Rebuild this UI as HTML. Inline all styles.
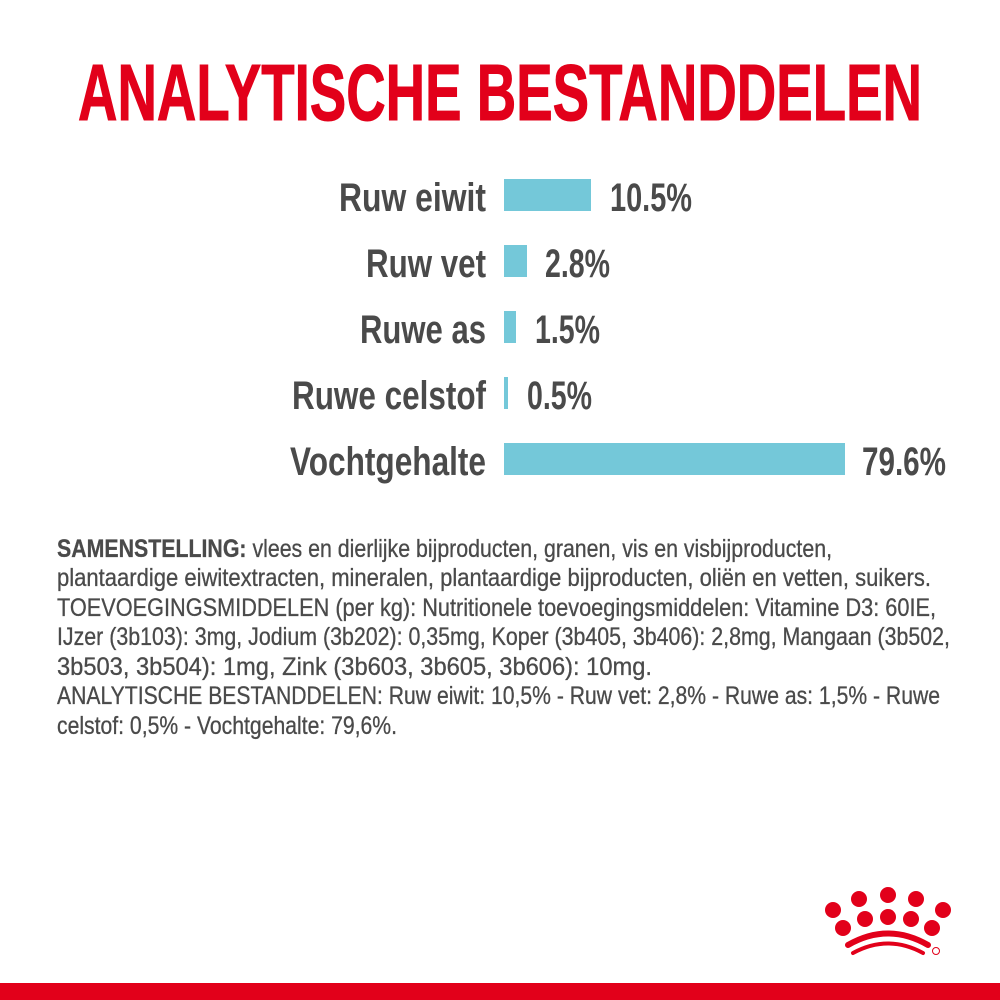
<!DOCTYPE html>
<html><head><meta charset="utf-8"><style>
html,body{margin:0;padding:0;background:#fff;}
svg{display:block}
text{font-family:"Liberation Sans Narrow","Liberation Sans",sans-serif;}
</style></head><body>
<svg width="1000" height="1000" viewBox="0 0 1000 1000" xmlns="http://www.w3.org/2000/svg">
<rect width="1000" height="1000" fill="#fff"/>
<text x="78" y="120" font-size="80" font-weight="bold" fill="#e2001a" stroke="#e2001a" stroke-width="1" textLength="844" lengthAdjust="spacingAndGlyphs">ANALYTISCHE BESTANDDELEN</text>
<g font-size="40" font-weight="bold" fill="#4a4a4a" text-anchor="end">
<text x="486" y="211" textLength="147" lengthAdjust="spacingAndGlyphs">Ruw eiwit</text>
<text x="486" y="277" textLength="120" lengthAdjust="spacingAndGlyphs">Ruw vet</text>
<text x="486" y="343" textLength="126" lengthAdjust="spacingAndGlyphs">Ruwe as</text>
<text x="486" y="409" textLength="194" lengthAdjust="spacingAndGlyphs">Ruwe celstof</text>
<text x="486" y="475" textLength="196" lengthAdjust="spacingAndGlyphs">Vochtgehalte</text>
</g>
<g fill="#74c8d9">
<rect x="504" y="179" width="87" height="32"/>
<rect x="504" y="245" width="23" height="32"/>
<rect x="504" y="311" width="12" height="32"/>
<rect x="504" y="377" width="4" height="32"/>
<rect x="504" y="443" width="341" height="32"/>
</g>
<g font-size="40" font-weight="bold" fill="#4a4a4a">
<text x="610" y="211" textLength="82" lengthAdjust="spacingAndGlyphs">10.5%</text>
<text x="545" y="277" textLength="65" lengthAdjust="spacingAndGlyphs">2.8%</text>
<text x="535" y="343" textLength="65" lengthAdjust="spacingAndGlyphs">1.5%</text>
<text x="527" y="409" textLength="65" lengthAdjust="spacingAndGlyphs">0.5%</text>
<text x="862" y="475" textLength="84" lengthAdjust="spacingAndGlyphs">79.6%</text>
</g>
<g font-size="25" fill="#4a4a4a" stroke="#4a4a4a" stroke-width="0.3">
<text x="57" y="557" textLength="775" lengthAdjust="spacingAndGlyphs"><tspan font-weight="bold">SAMENSTELLING:</tspan> vlees en dierlijke bijproducten, granen, vis en visbijproducten,</text>
<text x="57" y="586" textLength="874" lengthAdjust="spacingAndGlyphs">plantaardige eiwitextracten, mineralen, plantaardige bijproducten, oliën en vetten, suikers.</text>
<text x="57" y="616" textLength="879" lengthAdjust="spacingAndGlyphs">TOEVOEGINGSMIDDELEN (per kg): Nutritionele toevoegingsmiddelen: Vitamine D3: 60IE,</text>
<text x="57" y="645" textLength="893" lengthAdjust="spacingAndGlyphs">IJzer (3b103): 3mg, Jodium (3b202): 0,35mg, Koper (3b405, 3b406): 2,8mg, Mangaan (3b502,</text>
<text x="57" y="675" textLength="595" lengthAdjust="spacingAndGlyphs">3b503, 3b504): 1mg, Zink (3b603, 3b605, 3b606): 10mg.</text>
<text x="57" y="704" textLength="883" lengthAdjust="spacingAndGlyphs">ANALYTISCHE BESTANDDELEN: Ruw eiwit: 10,5% - Ruw vet: 2,8% - Ruwe as: 1,5% - Ruwe</text>
<text x="57" y="734" textLength="340" lengthAdjust="spacingAndGlyphs">celstof: 0,5% - Vochtgehalte: 79,6%.</text>
</g>
<g fill="#e2001a">
<circle cx="833" cy="910" r="8"/>
<circle cx="859" cy="899" r="8"/>
<circle cx="888" cy="895" r="8"/>
<circle cx="916" cy="899" r="8"/>
<circle cx="943" cy="910" r="8"/>
<circle cx="843" cy="928" r="8"/>
<circle cx="865" cy="919" r="8"/>
<circle cx="888" cy="917" r="8"/>
<circle cx="911" cy="919" r="8"/>
<circle cx="932" cy="928" r="8"/>
</g>
<g fill="none" stroke="#e2001a" stroke-linecap="round">
<path d="M848 945 Q888 922 928 945" stroke-width="6"/>
<path d="M853 953 Q888 934 923 953" stroke-width="4"/>
</g>
<circle cx="936" cy="951" r="3.5" fill="none" stroke="#e2001a" stroke-width="1"/>
<rect x="0" y="983" width="1000" height="17" fill="#e2001a"/>
</svg>
</body></html>
